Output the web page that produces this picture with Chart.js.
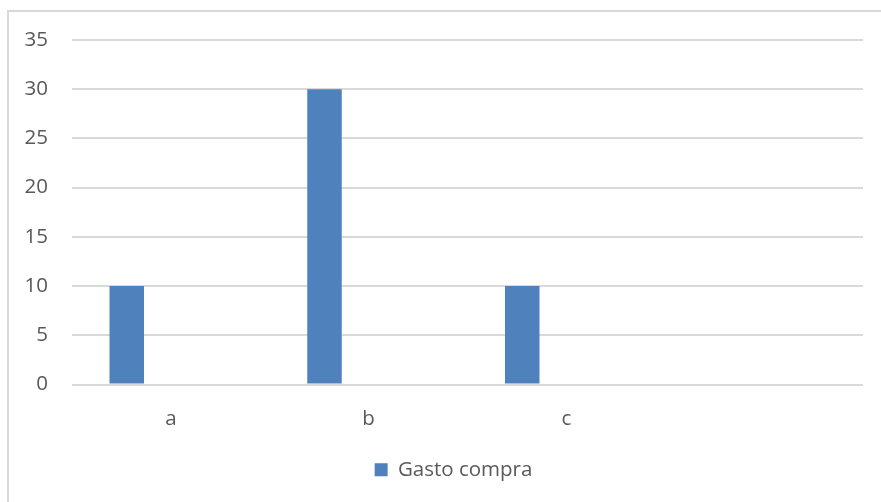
<!DOCTYPE html>
<html>
<head>
<meta charset="utf-8">
<script src="https://cdn.jsdelivr.net/npm/chart.js@4/dist/chart.umd.min.js"></script>
<style>
  html, body { margin: 0; padding: 0; background: #fff; overflow: hidden; }
  #wrap { position: relative; width: 881px; height: 502px; }
  #frame { position: absolute; left: 7px; top: 10px; width: 900px; height: 600px;
           border-left: 2px solid #d9d9d9; border-top: 2px solid #d9d9d9; box-sizing: border-box; }
  canvas { position: absolute; left: 0; top: 0; }
</style>
</head>
<body>
<div id="wrap">
  <div id="frame"></div>
  <canvas id="grafico" width="881" height="502"></canvas>
</div>
<script>
// dati del grafico
const categorie = ['a', 'b', 'c', ''];
const gastoCompra = [10, 30, 10, null];
const serieVuota1 = [];
const serieVuota2 = [];
const tickY = [0, 5, 10, 15, 20, 25, 30, 35];

const testo = '#595959';
const fontBase = { family: '"Open Sans", sans-serif', size: 20.5 };

// sposta la legenda a destra, come nell'originale
const spostaLegenda = {
    id: 'spostaLegenda',
    afterLayout(chart) {
        if (chart.legend) chart.legend.left += 44;
    }
};

new Chart(document.getElementById('grafico').getContext('2d'), {
    type: 'bar',
    data: {
        labels: categorie,
        datasets: [
            { label: 'Gasto compra', data: gastoCompra, backgroundColor: '#4f81bd' },
            { label: '', data: serieVuota1, backgroundColor: '#c0504d' },
            { label: '', data: serieVuota2, backgroundColor: '#9bbb59' }
        ]
    },
    plugins: [spostaLegenda],
    options: {
        responsive: false,
        animation: false,
        categoryPercentage: 0.6694,
        barPercentage: 0.782,
        layout: { padding: { left: 0, right: 18, top: 40, bottom: 12 } },
        plugins: {
            legend: {
                position: 'bottom',
                labels: {
                    filter: item => item.datasetIndex === 0,
                    boxWidth: 13,
                    boxHeight: 13,
                    color: testo,
                    font: fontBase,
                    padding: 10
                }
            },
            tooltip: { enabled: false }
        },
        scales: {
            x: {
                grid: { display: false, drawTicks: false },
                border: { display: false },
                ticks: { color: testo, font: fontBase, padding: 22 },
                afterFit: scale => { scale.height = 65; }
            },
            y: {
                min: 0,
                max: 35,
                afterBuildTicks: scale => { scale.ticks = tickY.map(v => ({ value: v })); },
                grid: { color: '#d9d9d9', lineWidth: 2, drawTicks: false },
                border: { display: false },
                ticks: { color: testo, font: fontBase, padding: 24 },
                afterFit: scale => { scale.width = 72; }
            }
        }
    }
});
</script>
</body>
</html>
